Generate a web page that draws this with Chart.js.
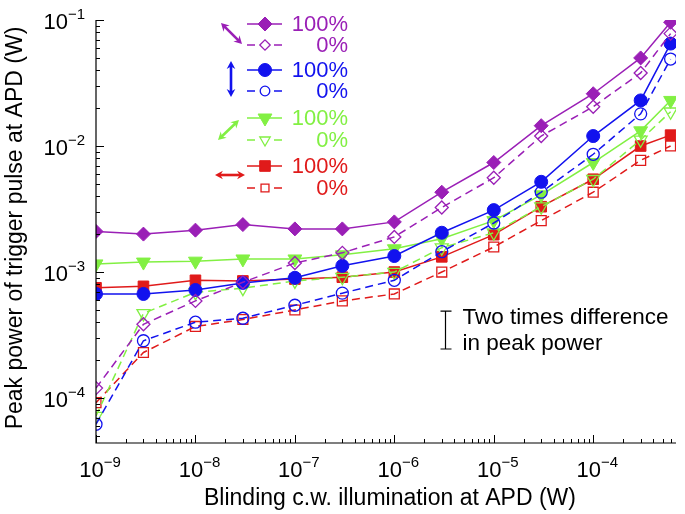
<!DOCTYPE html>
<html>
<head>
<meta charset="utf-8">
<script src="https://cdn.jsdelivr.net/npm/chart.js@4.4.1/dist/chart.umd.min.js"></script>
<style>
  html, body { margin: 0; padding: 0; background: #fff; }
  canvas { display: block; }
</style>
</head>
<body>
<canvas id="apdChart" width="685" height="514"></canvas>
<script>
// blinding c.w. illumination at APD (W)
const blindingPower = [1e-9, 3e-9, 1e-8, 3e-8, 1e-7, 3e-7, 1e-6, 3e-6, 1e-5, 3e-5, 1e-4, 3e-4, 6e-4];

// peak power of trigger pulse at APD (W), one pair per polarisation
const diagonalFull = [2.1e-3, 2.0e-3, 2.15e-3, 2.38e-3, 2.2e-3, 2.2e-3, 2.5e-3, 4.3e-3, 7.4e-3, 1.45e-2, 2.6e-2, 5.0e-2, 9.6e-2];
const diagonalZero = [1.2e-4, 3.85e-4, 5.9e-4, 8.3e-4, 1.18e-3, 1.42e-3, 1.9e-3, 3.25e-3, 5.6e-3, 1.2e-2, 2.05e-2, 3.8e-2, 7.8e-2];
const verticalFull = [6.7e-4, 6.7e-4, 7.2e-4, 8.2e-4, 9.0e-4, 1.12e-3, 1.34e-3, 2.05e-3, 3.1e-3, 5.2e-3, 1.2e-2, 2.3e-2, 6.5e-2];
const verticalZero = [6.2e-5, 2.85e-4, 4.0e-4, 4.3e-4, 5.45e-4, 6.8e-4, 8.6e-4, 1.45e-3, 2.45e-3, 4.3e-3, 8.6e-3, 1.8e-2, 4.9e-2];
const antiDiagFull = [1.16e-3, 1.2e-3, 1.22e-3, 1.27e-3, 1.27e-3, 1.37e-3, 1.53e-3, 1.84e-3, 2.56e-3, 4.1e-3, 7.4e-3, 1.32e-2, 2.3e-2];
const antiDiagZero = [7.2e-5, 4.7e-4, 6.9e-4, 7.45e-4, 8.5e-4, 9.1e-4, 1.0e-3, 1.56e-3, 2.05e-3, 3.3e-3, 5.45e-3, 1.12e-2, 1.87e-2];
const horizontalFull = [7.5e-4, 7.7e-4, 8.6e-4, 8.5e-4, 8.8e-4, 9.1e-4, 1.0e-3, 1.32e-3, 1.98e-3, 3.3e-3, 5.45e-3, 1.0e-2, 1.22e-2];
const horizontalZero = [9.2e-5, 2.3e-4, 3.7e-4, 4.2e-4, 5.0e-4, 5.9e-4, 6.7e-4, 1.0e-3, 1.58e-3, 2.56e-3, 4.3e-3, 7.7e-3, 1.0e-2];

// tick labels are 10^n
const xTickExponents = [-9, -8, -7, -6, -5, -4];
const yTickExponents = [-4, -3, -2, -1];
const levelLabels = ['100%', '0%'];

const purple = '#9a1fb6';
const blue = '#1212ee';
const green = '#82f043';
const red = '#e01a1a';
const FONT = '"Liberation Sans", Arial, Helvetica, sans-serif';

function series(values, color, style, rotation, radius, filled) {
    return {
        data: values.map((v, i) => ({ x: blindingPower[i], y: v })),
        borderColor: color,
        borderWidth: 1.5,
        borderDash: filled ? [] : [8, 5],
        pointStyle: style,
        rotation: rotation,
        pointRadius: radius,
        pointBackgroundColor: filled ? color : 'rgba(0,0,0,0)',
        pointBorderColor: color,
        pointBorderWidth: filled ? 1 : 1.3,
        fill: false,
        tension: 0
    };
}

const datasets = [
    series(diagonalFull, purple, 'rectRot', 0, 7, true),
    series(diagonalZero, purple, 'rectRot', 0, 6.5, false),
    series(verticalFull, blue, 'circle', 0, 6.5, true),
    series(verticalZero, blue, 'circle', 0, 6, false),
    series(antiDiagFull, green, 'triangle', 180, 8, true),
    series(antiDiagZero, green, 'triangle', 180, 7.5, false),
    series(horizontalFull, red, 'rect', 0, 7.5, true),
    series(horizontalZero, red, 'rect', 0, 7, false)
];

function logTicks(min, max) {
    const out = [];
    for (let d = Math.floor(Math.log10(min)); d <= Math.ceil(Math.log10(max)); d++) {
        for (let m = 1; m <= 9; m++) {
            const v = m * Math.pow(10, d);
            if (v >= min * 0.999 && v <= max * 1.001) out.push({ value: v, major: m === 1 });
        }
    }
    return out;
}

// "10" with a raised exponent
function drawPower(ctx, exp, x, y, align) {
    const base = '10';
    const sup = '\u2212' + Math.abs(exp);
    ctx.font = '22px ' + FONT;
    const w1 = ctx.measureText(base).width;
    ctx.font = '15px ' + FONT;
    const w2 = ctx.measureText(sup).width;
    let start = align === 'right' ? x - w1 - w2 : x - (w1 + w2) / 2;
    ctx.textAlign = 'left';
    ctx.textBaseline = 'alphabetic';
    ctx.font = '22px ' + FONT;
    ctx.fillText(base, start, y);
    ctx.font = '15px ' + FONT;
    ctx.fillText(sup, start + w1, y - 10);
}

function arrow(ctx, x1, y1, x2, y2, color) {
    const ang = Math.atan2(y2 - y1, x2 - x1);
    const head = 9, spread = 0.5;
    ctx.strokeStyle = color;
    ctx.fillStyle = color;
    ctx.lineWidth = 2.6;
    ctx.beginPath();
    ctx.moveTo(x1 + Math.cos(ang) * 4, y1 + Math.sin(ang) * 4);
    ctx.lineTo(x2 - Math.cos(ang) * 4, y2 - Math.sin(ang) * 4);
    ctx.stroke();
    [[x2, y2, ang], [x1, y1, ang + Math.PI]].forEach(([px, py, a]) => {
        ctx.beginPath();
        ctx.moveTo(px, py);
        ctx.lineTo(px - head * Math.cos(a - spread), py - head * Math.sin(a - spread));
        ctx.lineTo(px - head * 0.6 * Math.cos(a), py - head * 0.6 * Math.sin(a));
        ctx.lineTo(px - head * Math.cos(a + spread), py - head * Math.sin(a + spread));
        ctx.closePath();
        ctx.fill();
    });
}

const decorations = {
    id: 'decorations',
    afterDraw(chart) {
        const { ctx, chartArea: area, scales } = chart;
        const xs = scales.x, ys = scales.y;
        ctx.save();

        // axes lines
        ctx.strokeStyle = '#000';
        ctx.lineWidth = 1.2;
        ctx.beginPath();
        ctx.moveTo(area.left, area.top);
        ctx.lineTo(area.left, area.bottom);
        ctx.lineTo(area.right, area.bottom);
        ctx.stroke();

        // inward ticks
        ctx.lineWidth = 1;
        ctx.beginPath();
        logTicks(xs.min, xs.max).forEach(t => {
            const px = Math.round(xs.getPixelForValue(t.value)) + 0.5;
            ctx.moveTo(px, area.bottom);
            ctx.lineTo(px, area.bottom - (t.major ? 8 : 4));
        });
        logTicks(ys.min, ys.max).forEach(t => {
            const py = Math.round(ys.getPixelForValue(t.value)) + 0.5;
            ctx.moveTo(area.left, py);
            ctx.lineTo(area.left + (t.major ? 8 : 4), py);
        });
        ctx.stroke();

        // tick labels
        ctx.fillStyle = '#000';
        xTickExponents.forEach(e => {
            drawPower(ctx, e, xs.getPixelForValue(Math.pow(10, e)) + 4, area.bottom + 34, 'center');
        });
        yTickExponents.forEach(e => {
            drawPower(ctx, e, area.left - 11, ys.getPixelForValue(Math.pow(10, e)) + 9, 'right');
        });

        // axis titles
        ctx.font = '23px ' + FONT;
        ctx.textAlign = 'center';
        ctx.textBaseline = 'middle';
        ctx.fillText('Blinding c.w. illumination at APD (W)', 390, 499);
        ctx.save();
        ctx.translate(16, 228);
        ctx.rotate(-Math.PI / 2);
        ctx.fillText('Peak power of trigger pulse at APD (W)', 0, 0);
        ctx.restore();

        // two times difference bar, placed on the data scales
        const barX = Math.round(xs.getPixelForValue(3.2e-6)) + 0.5;
        const barLo = ys.getPixelForValue(2.45e-4);
        const barHi = ys.getPixelForValue(4.9e-4);
        ctx.strokeStyle = '#000';
        ctx.lineWidth = 1.2;
        ctx.beginPath();
        ctx.moveTo(barX, barLo); ctx.lineTo(barX, barHi);
        ctx.moveTo(barX - 5, barLo); ctx.lineTo(barX + 6, barLo);
        ctx.moveTo(barX - 5, barHi); ctx.lineTo(barX + 6, barHi);
        ctx.stroke();
        ctx.textAlign = 'left';
        ctx.font = '22.5px ' + FONT;
        ctx.fillText('Two times difference', barX + 17, barHi + 7);
        ctx.fillText('in peak power', barX + 17, barLo - 5);

        // legend
        const rows = [
            { set: 0, y: 24 }, { set: 1, y: 45 },
            { set: 2, y: 70 }, { set: 3, y: 91 },
            { set: 4, y: 118 }, { set: 5, y: 140 },
            { set: 6, y: 166 }, { set: 7, y: 188 }
        ];
        rows.forEach((r, i) => {
            const ds = chart.data.datasets[r.set];
            const filled = i % 2 === 0;
            ctx.strokeStyle = ds.borderColor;
            ctx.lineWidth = 1.5;
            ctx.beginPath();
            if (filled) {
                ctx.moveTo(247, r.y); ctx.lineTo(282, r.y);
            } else {
                ctx.moveTo(247, r.y); ctx.lineTo(255, r.y);
                ctx.moveTo(274, r.y); ctx.lineTo(282, r.y);
            }
            ctx.stroke();
            ctx.fillStyle = ds.pointBackgroundColor;
            ctx.lineWidth = ds.pointBorderWidth;
            Chart.helpers.drawPoint(ctx, {
                pointStyle: ds.pointStyle,
                radius: filled ? ds.pointRadius : ds.pointRadius * 0.8,
                rotation: ds.rotation,
                borderWidth: ds.pointBorderWidth
            }, 265, r.y);
            ctx.fillStyle = ds.borderColor;
            ctx.font = '22px ' + FONT;
            ctx.textAlign = 'right';
            ctx.textBaseline = 'middle';
            ctx.fillText(levelLabels[i % 2], 348, r.y + 1);
        });
        arrow(ctx, 221, 23, 242, 44, purple);
        arrow(ctx, 231, 61, 231, 97, blue);
        arrow(ctx, 218, 140, 239, 120, green);
        arrow(ctx, 215, 175, 245, 175, red);

        ctx.restore();
    }
};

new Chart(document.getElementById('apdChart').getContext('2d'), {
    type: 'line',
    data: { datasets: datasets },
    options: {
        responsive: false,
        animation: false,
        layout: { padding: { left: 96, top: 20, right: 2, bottom: 71 } },
        plugins: { legend: { display: false }, tooltip: { enabled: false } },
        scales: {
            x: {
                type: 'logarithmic',
                min: 1e-9,
                max: 6.8e-4,
                grid: { display: false, drawTicks: false },
                border: { display: false },
                ticks: { display: false }
            },
            y: {
                type: 'logarithmic',
                min: 4.4e-5,
                max: 0.1,
                grid: { display: false, drawTicks: false },
                border: { display: false },
                ticks: { display: false }
            }
        }
    },
    plugins: [decorations]
});
</script>
</body>
</html>
